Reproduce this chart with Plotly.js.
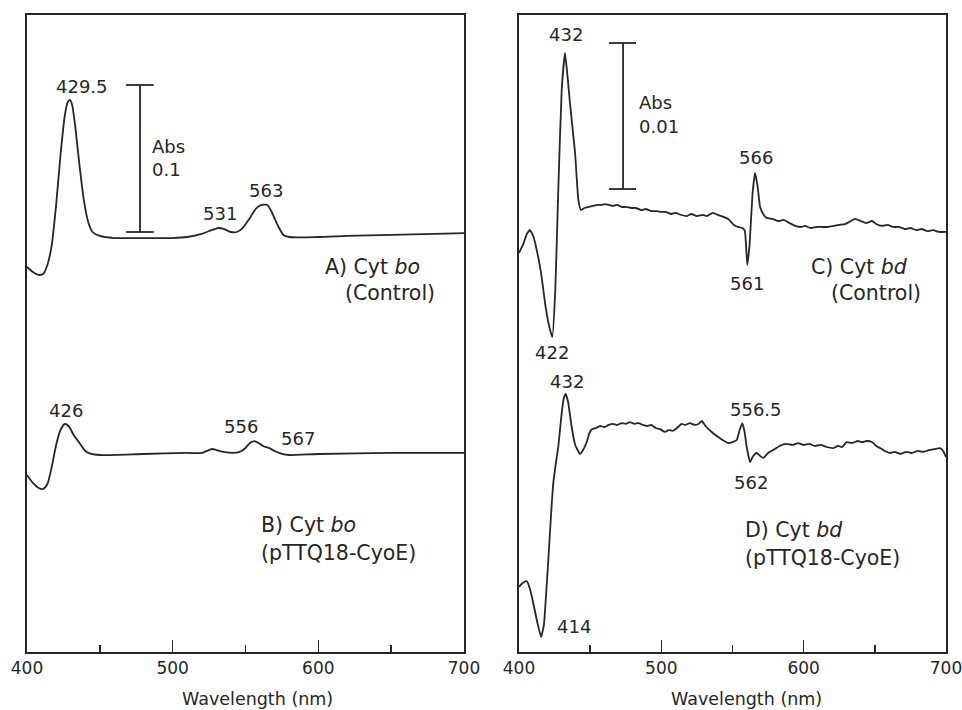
<!DOCTYPE html>
<html>
<head>
<meta charset="utf-8">
<script src="https://cdn.plot.ly/plotly-3.0.1.min.js"></script>
<style>html,body{margin:0;padding:0;background:#fff;}#chart{width:962px;height:710px;}</style>
</head>
<body>
<div id="chart"></div>
<script>
// ---- Data (wavelength in nm, absorbance in Abs) ----
const lamA = [400,404,408,411,414,417,420,423,426,428,429.5,431,433,436,439,442,445,450,460,480,500,510,520,527,531,535,540,544,548,553,557,561,565,568,572,576,580,600,620,650,680,700];
const absA = [0.2619,0.2585,0.2565,0.2571,0.2633,0.2769,0.3041,0.3381,0.3653,0.3741,0.3755,0.3721,0.3585,0.3313,0.3075,0.2925,0.2857,0.2830,0.2816,0.2816,0.2816,0.2823,0.2844,0.2871,0.2884,0.2878,0.2857,0.2857,0.2884,0.2952,0.3014,0.3041,0.3041,0.2993,0.2905,0.2837,0.2823,0.2823,0.2830,0.2837,0.2844,0.2850];

const lamB = [400,404,408,411,414,417,420,423,426,429,432,436,440,444,450,480,510,520,527,530,535,541,546,550,553,556,559,562,566,570,575,580,600,650,700];
const absB = [0.1204,0.1150,0.1116,0.1109,0.1143,0.1259,0.1408,0.1510,0.1551,0.1531,0.1476,0.1422,0.1367,0.1347,0.1340,0.1347,0.1354,0.1354,0.1381,0.1374,0.1361,0.1354,0.1361,0.1388,0.1422,0.1435,0.1422,0.1401,0.1388,0.1367,0.1347,0.1340,0.1347,0.1354,0.1354];

const lamC = [400,403,405.5,407.7,410,413.6,416,418.3,421,423.4,425.5,427.6,430,432.3,434,435.8,437.6,439.4,441.7,443.5,446,449,452,455,458,460.4,463,466,469,472,475,479,482,486,489,493,497,500,503,507,510,514,518,521,525,529,532,536,540,544,547,551,554,557,558.7,560.4,562,564,565.8,567.5,569.4,572,574,578,582,586,590,594,598,601,605,609,613,617,621,625,629,632,636,640,644,648,651,655,659,663,667,671,675,679,683,687,691,695,700];
const absC = [0.02733,0.02794,0.02863,0.02890,0.02849,0.02699,0.02562,0.02390,0.02240,0.02157,0.02479,0.03164,0.03849,0.04103,0.03952,0.03760,0.03589,0.03418,0.03096,0.03027,0.03041,0.03048,0.03055,0.03062,0.03062,0.03068,0.03062,0.03055,0.03062,0.03048,0.03048,0.03041,0.03041,0.03027,0.03034,0.03020,0.03020,0.03014,0.03014,0.03000,0.03007,0.02993,0.02986,0.03000,0.02986,0.02993,0.02986,0.03007,0.02993,0.02979,0.02966,0.02925,0.02911,0.02904,0.02883,0.02651,0.02788,0.03130,0.03281,0.03199,0.03048,0.02993,0.02973,0.02966,0.02952,0.02959,0.02938,0.02918,0.02911,0.02918,0.02904,0.02911,0.02911,0.02911,0.02918,0.02925,0.02931,0.02945,0.02966,0.02952,0.02938,0.02952,0.02931,0.02918,0.02925,0.02911,0.02911,0.02897,0.02904,0.02890,0.02897,0.02883,0.02890,0.02877,0.02877];

const lamD = [400,402.5,405.4,407.5,410,412.5,415.5,417.5,419,420.6,422.5,424.1,426,427.6,430,431.5,432.8,434.5,437,439.5,442.9,445,447.6,449.5,451.5,454,457,460,463,466,469,472,475,478,481,484,487,490,493,496,499,502.6,505,508,511,514.3,517,520,523.7,526,528.4,531,535.4,539,543,547,550,553,555,556.9,558.5,560,562.3,564.5,567,569.5,571.7,575,578.7,583,588.1,592,596,600,604,608,612,616,620.9,624,627,630.2,634,638,641,644.3,648,651,653.7,657,660.7,664,668,672,676,680,684,688,692,695.8,698,700];
const absD = [0.00445,0.00473,0.00486,0.00438,0.00336,0.00219,0.00103,0.00185,0.00390,0.00630,0.00938,0.01157,0.01301,0.01404,0.01637,0.01740,0.01767,0.01712,0.01541,0.01418,0.01356,0.01383,0.01438,0.01500,0.01527,0.01534,0.01548,0.01541,0.01555,0.01562,0.01555,0.01568,0.01562,0.01575,0.01562,0.01568,0.01555,0.01548,0.01555,0.01534,0.01527,0.01507,0.01520,0.01514,0.01534,0.01562,0.01555,0.01568,0.01555,0.01562,0.01582,0.01548,0.01507,0.01479,0.01452,0.01431,0.01438,0.01452,0.01520,0.01568,0.01507,0.01404,0.01301,0.01342,0.01363,0.01342,0.01329,0.01363,0.01383,0.01411,0.01425,0.01418,0.01431,0.01418,0.01425,0.01411,0.01418,0.01404,0.01397,0.01411,0.01404,0.01438,0.01431,0.01445,0.01438,0.01445,0.01438,0.01411,0.01397,0.01377,0.01363,0.01370,0.01356,0.01370,0.01363,0.01377,0.01370,0.01383,0.01390,0.01397,0.01377,0.01336];

const tickVals = [400, 500, 600, 700];
const tickText = ['400', '500', '600', '700'];

// Peak labels: [text, wavelength, absorbance]
const labelsLeft = [['429.5',437.5,0.3844],['531',532.5,0.2986],['563',564,0.3136],['426',426.8,0.1646],['556',546.9,0.1531],['567',586,0.1449]];
const labelsRight = [['432',433,0.04226],['566',566.5,0.03390],['561',560.2,0.02527],['422',423.2,0.02048],['432',433.7,0.01856],['556.5',566.5,0.01664],['562',563,0.01164],['414',438.7,0.00178]];

// ---- Styles ----
const FONT = 'DejaVu Sans, Liberation Sans, Arial, sans-serif';
const INK = '#262626';
const FS_PEAK = 18, FS_PANEL = 20.5, FS_TICK = 17, FS_TITLE = 17.5;

const lineStyle = {color: INK, width: 1.8};
const traces = [
  {x: lamA, y: absA, xaxis: 'x', yaxis: 'y', mode: 'lines', line: Object.assign({shape: 'spline', smoothing: 0.6}, lineStyle), name: 'A) Cyt bo (Control)'},
  {x: lamB, y: absB, xaxis: 'x', yaxis: 'y', mode: 'lines', line: Object.assign({shape: 'spline', smoothing: 0.6}, lineStyle), name: 'B) Cyt bo (pTTQ18-CyoE)'},
  {x: lamC, y: absC, xaxis: 'x2', yaxis: 'y2', mode: 'lines', line: Object.assign({shape: 'spline', smoothing: 0.4}, lineStyle), name: 'C) Cyt bd (Control)'},
  {x: lamD, y: absD, xaxis: 'x2', yaxis: 'y2', mode: 'lines', line: Object.assign({shape: 'spline', smoothing: 0.4}, lineStyle), name: 'D) Cyt bd (pTTQ18-CyoE)'}
];

function xAxis(domain) {
  return {
    domain: domain, range: [400, 700], showgrid: false, zeroline: false,
    showline: true, mirror: true, linecolor: INK, linewidth: 1.6,
    tickvals: tickVals, ticktext: tickText, ticks: 'inside', ticklen: 12, tickwidth: 1.6, tickcolor: INK,
    minor: {tickvals: [450, 550, 650], ticks: 'inside', ticklen: 7, tickwidth: 1.6, tickcolor: INK},
    tickfont: {family: FONT, size: FS_TICK, color: INK}, ticklabelstandoff: 0,
    ticklabeloverflow: 'allow',
    fixedrange: true
  };
}
function yAxis(range, anchor) {
  return {
    domain: [0.0817, 0.9789], range: range, anchor: anchor, showgrid: false, zeroline: false,
    showline: true, mirror: true, linecolor: INK, linewidth: 1.6,
    showticklabels: false, ticks: '', fixedrange: true
  };
}

const annotations = [];
function addLabel(t, x, y, xr, yr, xanchor, size) {
  annotations.push({text: t, x: x, y: y, xref: xr, yref: yr, showarrow: false,
    xanchor: xanchor || 'center', yanchor: 'middle', font: {family: FONT, size: size || FS_PEAK, color: INK}});
}
labelsLeft.forEach(l => addLabel(l[0], l[1], l[2], 'x', 'y'));
labelsRight.forEach(l => addLabel(l[0], l[1], l[2], 'x2', 'y2'));
// scale-bar captions and panel captions
addLabel('Abs', 484.4, 0.3442, 'x', 'y', 'left');
addLabel('0.1', 484.4, 0.3279, 'x', 'y', 'left');
addLabel('A) Cyt <i>bo</i>', 603.2, 0.2619, 'x', 'y', 'left', FS_PANEL);
addLabel('(Control)', 616.9, 0.2442, 'x', 'y', 'left', FS_PANEL);
addLabel('B) Cyt <i>bo</i>', 559.2, 0.0864, 'x', 'y', 'left', FS_PANEL);
addLabel('(pTTQ18-CyoE)', 559.2, 0.0673, 'x', 'y', 'left', FS_PANEL);
addLabel('Abs', 482.9, 0.03767, 'x2', 'y2', 'left');
addLabel('0.01', 482.9, 0.03596, 'x2', 'y2', 'left');
addLabel('C) Cyt <i>bd</i>', 603.8, 0.02637, 'x2', 'y2', 'left', FS_PANEL);
addLabel('(Control)', 617.9, 0.02459, 'x2', 'y2', 'left', FS_PANEL);
addLabel('D) Cyt <i>bd</i>', 557.4, 0.00836, 'x2', 'y2', 'left', FS_PANEL);
addLabel('(pTTQ18-CyoE)', 557.4, 0.00644, 'x2', 'y2', 'left', FS_PANEL);
// axis titles
addLabel('Wavelength (nm)', 0.2672, 0.0155, 'paper', 'paper', 'center', FS_TITLE);
addLabel('Wavelength (nm)', 0.7765, 0.0155, 'paper', 'paper', 'center', FS_TITLE);

// scale bars (0.1 Abs left, 0.01 Abs right)
const sb = {color: INK, width: 1.8};
const shapes = [
  {type: 'line', xref: 'x', yref: 'y', x0: 477.6, x1: 477.6, y0: 0.2857, y1: 0.3857, line: sb},
  {type: 'line', xref: 'x', yref: 'y', x0: 468, x1: 487, y0: 0.3857, y1: 0.3857, line: sb},
  {type: 'line', xref: 'x', yref: 'y', x0: 468, x1: 487, y0: 0.2857, y1: 0.2857, line: sb},
  {type: 'line', xref: 'x2', yref: 'y2', x0: 473.1, x1: 473.1, y0: 0.03171, y1: 0.04171, line: sb},
  {type: 'line', xref: 'x2', yref: 'y2', x0: 463.2, x1: 482.2, y0: 0.04171, y1: 0.04171, line: sb},
  {type: 'line', xref: 'x2', yref: 'y2', x0: 463.2, x1: 482.2, y0: 0.03171, y1: 0.03171, line: sb}
];

const layout = {
  width: 962, height: 710, margin: {l: 0, r: 0, t: 0, b: 0},
  paper_bgcolor: '#fff', plot_bgcolor: '#fff', showlegend: false,
  xaxis: Object.assign(xAxis([0.02807, 0.48233]), {anchor: 'y'}),
  yaxis: yAxis([0, 0.43333], 'x'),
  xaxis2: Object.assign(xAxis([0.53950, 0.98337]), {anchor: 'y2'}),
  yaxis2: yAxis([0, 0.04363], 'x2'),
  annotations: annotations, shapes: shapes,
  font: {family: FONT, size: FS_PEAK, color: INK}
};

Plotly.newPlot('chart', traces, layout, {displayModeBar: false, staticPlot: true});
</script>
</body>
</html>
